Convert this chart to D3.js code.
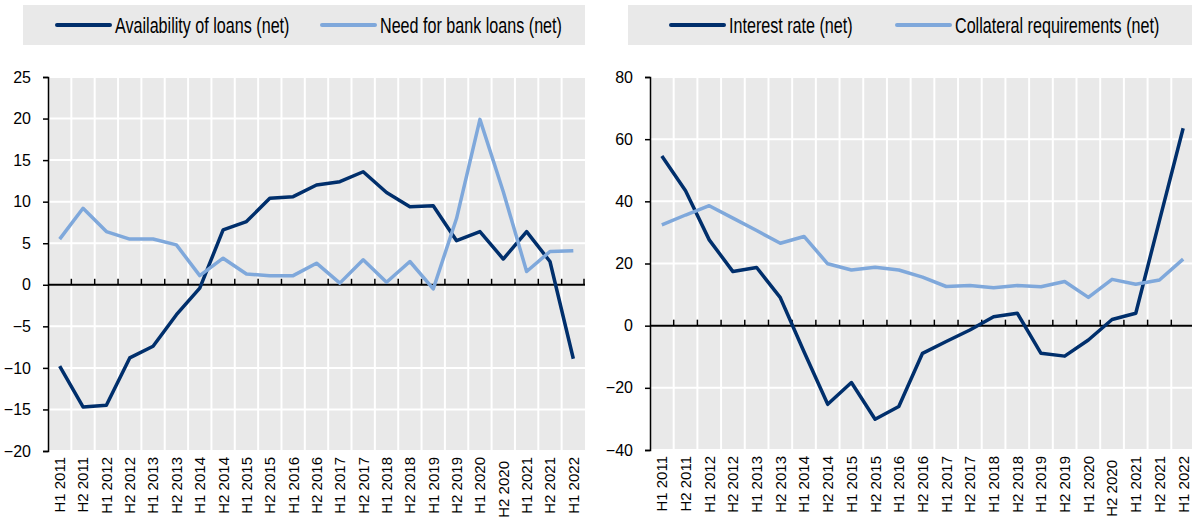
<!DOCTYPE html>
<html>
<head>
<meta charset="utf-8">
<script src="https://cdn.jsdelivr.net/npm/d3@7"></script>
<style>
  html, body { margin: 0; padding: 0; background: #ffffff; }
  svg { display: block; }
  text { font-family: "Liberation Sans", Arial, sans-serif; fill: #000; }
</style>
</head>
<body>
<svg id="chart" width="1192" height="519"></svg>
<script>
// ---- Data ----
const periods = ["H1 2011","H2 2011","H1 2012","H2 2012","H1 2013","H2 2013","H1 2014","H2 2014",
  "H1 2015","H2 2015","H1 2016","H2 2016","H1 2017","H2 2017","H1 2018","H2 2018",
  "H1 2019","H2 2019","H1 2020","H2 2020","H1 2021","H2 2021","H1 2022"];

const availabilityOfLoans = [-9.8,-14.7,-14.5,-8.8,-7.4,-3.6,-0.4,6.6,7.6,10.4,10.6,12.0,
  12.4,13.6,11.1,9.4,9.5,5.3,6.4,3.1,6.4,2.8,-8.9];
const needForBankLoans = [5.5,9.2,6.4,5.5,5.5,4.8,1.1,3.2,1.3,1.1,1.1,2.6,
  0.2,3.0,0.3,2.8,-0.5,8.0,19.9,11.2,1.6,4.0,4.1];

const interestRate = [54.6,43.4,27.6,17.4,18.7,9.0,-8.4,-25.3,-18.3,-30.1,-26.0,-8.9,
  -5.1,-1.4,2.9,4.0,-8.9,-9.8,-4.6,2.0,4.0,33.8,63.5];
const collateralRequirements = [32.4,35.6,38.6,34.6,30.6,26.5,28.7,19.9,17.9,18.8,17.9,15.6,
  12.6,12.9,12.2,12.9,12.5,14.2,9.1,14.9,13.3,14.7,21.4];

const leftTicks = [-20,-15,-10,-5,0,5,10,15,20,25];
const rightTicks = [-40,-20,0,20,40,60,80];

const leftSeries = [
  {name: "Availability of loans (net)", values: availabilityOfLoans, color: "#002F6C"},
  {name: "Need for bank loans (net)", values: needForBankLoans, color: "#7FA8DB"}
];
const rightSeries = [
  {name: "Interest rate (net)", values: interestRate, color: "#002F6C"},
  {name: "Collateral requirements (net)", values: collateralRequirements, color: "#7FA8DB"}
];

const svg = d3.select("#chart");
const BG = "#e9e9e9";

function drawPanel(cfg) {
  const g = svg.append("g");
  // legend box
  g.append("rect").attr("x", cfg.legend.x).attr("y", 5).attr("width", cfg.legend.w).attr("height", 40).attr("fill", BG);
  cfg.series.forEach((s, i) => {
    const lx = cfg.legend.items[i];
    g.append("line").attr("x1", lx).attr("x2", lx + 53).attr("y1", 25).attr("y2", 25)
      .attr("stroke", s.color).attr("stroke-width", 4).attr("stroke-linecap", "round");
    g.append("text").attr("x", 0).attr("y", 0).attr("dy", "0.36em")
      .attr("transform", `translate(${lx + 58},25) scale(0.75,1)`)
      .style("font-size", "21.5px")
      .text(s.name);
  });

  const x = d3.scaleBand().domain(periods).range([cfg.x0, cfg.x1]).padding(0);
  const y = d3.scaleLinear().domain(cfg.domain).range([cfg.yb, cfg.yt]);

  // plot background
  g.append("rect").attr("x", cfg.x0).attr("y", cfg.yt).attr("width", cfg.x1 - cfg.x0).attr("height", cfg.yb - cfg.yt).attr("fill", BG);

  // grid
  g.selectAll(".hg").data(cfg.ticks).enter().append("line")
    .attr("x1", cfg.x0).attr("x2", cfg.x1).attr("y1", d => y(d)).attr("y2", d => y(d))
    .attr("stroke", "#fff").attr("stroke-width", 2);
  g.selectAll(".vg").data(periods.slice(1)).enter().append("line")
    .attr("x1", d => x(d)).attr("x2", d => x(d)).attr("y1", cfg.yt).attr("y2", cfg.yb)
    .attr("stroke", "#fff").attr("stroke-width", 2);

  // zero axis with ticks upward
  g.append("line").attr("x1", cfg.x0).attr("x2", cfg.x1).attr("y1", y(0)).attr("y2", y(0))
    .attr("stroke", "#000").attr("stroke-width", 2);
  g.selectAll(".zt").data(periods.slice(1).concat(["__end"])).enter().append("line")
    .attr("x1", d => d === "__end" ? cfg.x1 - 1 : x(d)).attr("x2", d => d === "__end" ? cfg.x1 - 1 : x(d))
    .attr("y1", y(0)).attr("y2", y(0) - 6).attr("stroke", "#000").attr("stroke-width", 1.5);

  // y axis
  const yAxis = d3.axisLeft(y).tickValues(cfg.ticks).tickSize(5).tickPadding(12);
  const ya = g.append("g").attr("transform", `translate(${cfg.x0},0)`).call(yAxis);
  ya.select(".domain").attr("stroke", "#000").attr("stroke-width", 1.5);
  ya.selectAll(".tick line").attr("stroke", "#000").attr("stroke-width", 1.5);
  ya.selectAll(".tick text").style("font-size", "16px").style("font-family", "Liberation Sans, Arial, sans-serif")
    .attr("fill", "#000");

  // x labels
  g.selectAll(".xl").data(periods).enter().append("text")
    .attr("transform", d => {
      const off = d === "H2 2020" ? cfg.shift : 0;
      return `translate(${x(d) + x.bandwidth() / 2},${cfg.yb + 6 + off}) rotate(-90)`;
    })
    .attr("text-anchor", "end").attr("dy", "0.36em")
    .style("font-size", "15px")
    .text(d => d);

  // lines
  const line = d3.line().x((d, i) => x(periods[i]) + x.bandwidth() / 2).y(d => y(d));
  cfg.series.forEach(s => {
    g.append("path").datum(s.values).attr("d", line).attr("fill", "none")
      .attr("stroke", s.color).attr("stroke-width", 3.5).attr("stroke-linejoin", "round");
  });
}

drawPanel({
  series: leftSeries, x0: 48, x1: 585, yt: 77, yb: 451, domain: [-20, 25], ticks: leftTicks,
  legend: {x: 23, w: 562, items: [57, 322]}, shift: 4
});
drawPanel({
  series: rightSeries, x0: 650, x1: 1195, yt: 77, yb: 450, domain: [-40, 80], ticks: rightTicks,
  legend: {x: 628, w: 564, items: [671, 897]}, shift: 4
});
</script>
</body>
</html>
